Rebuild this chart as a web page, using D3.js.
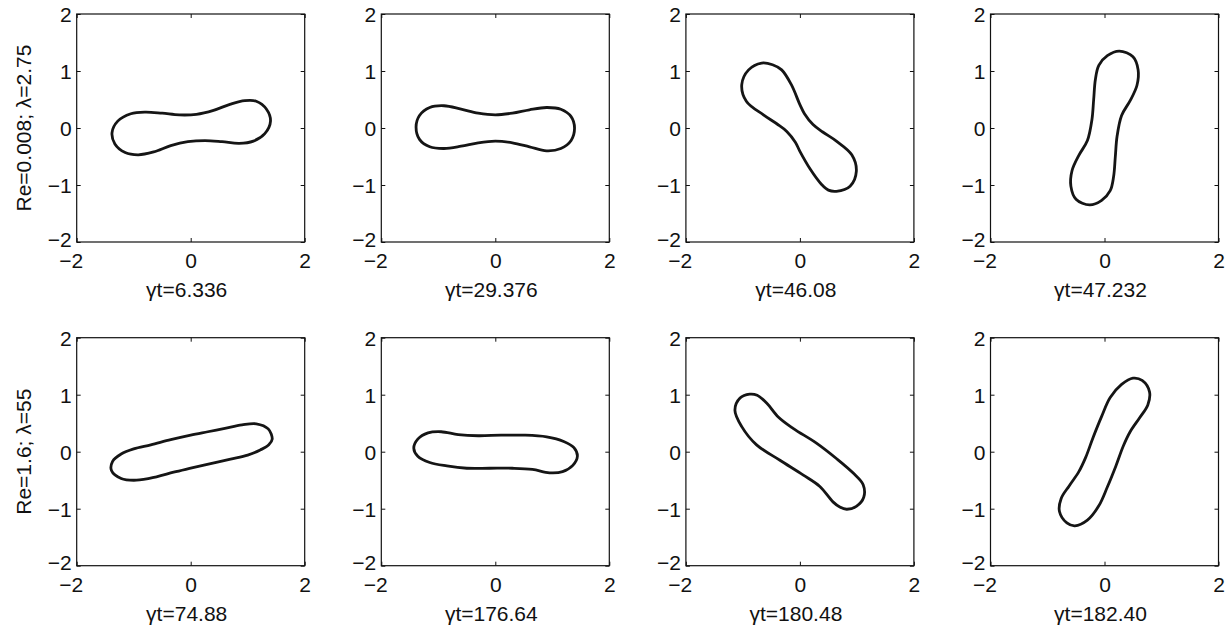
<!DOCTYPE html>
<html>
<head>
<meta charset="utf-8">
<script src="https://cdn.jsdelivr.net/npm/d3@7"></script>
<style>
  body { margin: 0; background: #fff; }
  svg text { font-family: "Liberation Sans", Arial, Helvetica, sans-serif; fill: #111; }
</style>
</head>
<body>
<div id="chart"></div>
<script>
// tick values shared by every panel
var xTicks = [-2, 0, 2];
var yTicks = [-2, -1, 0, 1, 2];

// row labels (left side) and panel labels (below each panel)
var rowLabels = ["Re=0.008; \u03bb=2.75", "Re=1.6; \u03bb=55"];
var panelLabels = [
  ["\u03b3t=6.336", "\u03b3t=29.376", "\u03b3t=46.08", "\u03b3t=47.232"],
  ["\u03b3t=74.88", "\u03b3t=176.64", "\u03b3t=180.48", "\u03b3t=182.40"]
];

// drop outlines as [x, y]
var shape1 = [[1.40,0.12],[1.33,0.33],[1.15,0.47],[0.95,0.48],[0.70,0.42],[0.40,0.31],[0.10,0.24],[-0.20,0.23],
  [-0.50,0.26],[-0.80,0.28],[-1.05,0.25],[-1.28,0.12],[-1.38,-0.08],[-1.33,-0.28],[-1.15,-0.43],[-0.92,-0.47],
  [-0.65,-0.42],[-0.35,-0.31],[-0.05,-0.24],[0.25,-0.22],[0.55,-0.24],[0.85,-0.27],[1.10,-0.23],[1.30,-0.10]];
var shape2 = [[1.39,0.00],[1.33,0.20],[1.15,0.33],[0.90,0.36],[0.60,0.32],[0.30,0.26],[0.00,0.23],[-0.30,0.26],
  [-0.60,0.33],[-0.90,0.39],[-1.15,0.36],[-1.33,0.22],[-1.39,0.02],[-1.33,-0.20],[-1.15,-0.33],[-0.90,-0.36],
  [-0.60,-0.32],[-0.30,-0.26],[0.00,-0.23],[0.30,-0.26],[0.60,-0.33],[0.90,-0.40],[1.15,-0.36],[1.33,-0.22]];
var shape3 = [[0.64,-1.11],[0.88,-1.02],[0.99,-0.76],[0.91,-0.47],[0.64,-0.23],[0.40,-0.07],[0.23,0.06],[0.08,0.25],
  [0.00,0.41],[-0.15,0.76],[-0.32,1.02],[-0.48,1.11],[-0.67,1.14],[-0.90,1.02],[-1.02,0.76],[-0.94,0.47],
  [-0.64,0.23],[-0.40,0.07],[-0.23,-0.06],[-0.08,-0.25],[0.00,-0.41],[0.18,-0.72],[0.38,-0.99],[0.50,-1.09]];
var shape4 = [[-0.26,-1.35],[-0.05,-1.27],[0.10,-1.10],[0.16,-0.85],[0.19,-0.50],[0.22,-0.15],[0.30,0.22],[0.45,0.48],
  [0.57,0.75],[0.59,1.02],[0.50,1.25],[0.26,1.35],[0.05,1.27],[-0.10,1.10],[-0.16,0.85],[-0.19,0.50],
  [-0.22,0.15],[-0.30,-0.22],[-0.45,-0.48],[-0.57,-0.75],[-0.59,-1.02],[-0.50,-1.25]];
var shape5 = [[1.43,0.22],[1.36,0.40],[1.15,0.49],[0.90,0.47],[0.60,0.41],[0.30,0.35],[0.00,0.29],[-0.35,0.21],
  [-0.70,0.12],[-1.00,0.05],[-1.22,-0.04],[-1.37,-0.17],[-1.39,-0.33],[-1.22,-0.47],[-0.95,-0.50],[-0.60,-0.44],
  [-0.30,-0.36],[0.00,-0.29],[0.35,-0.21],[0.70,-0.13],[1.00,-0.06],[1.22,0.03],[1.37,0.12]];
var shape6 = [[1.44,-0.08],[1.38,0.07],[1.20,0.18],[0.90,0.26],[0.50,0.29],[0.10,0.29],[-0.30,0.28],[-0.65,0.30],
  [-0.95,0.35],[-1.18,0.33],[-1.36,0.22],[-1.43,0.06],[-1.36,-0.08],[-1.15,-0.19],[-0.85,-0.25],[-0.50,-0.29],
  [-0.10,-0.29],[0.30,-0.29],[0.65,-0.31],[0.95,-0.37],[1.18,-0.35],[1.36,-0.24]];
var shape7 = [[0.82,-1.01],[0.99,-0.96],[1.12,-0.80],[1.11,-0.58],[0.94,-0.38],[0.64,-0.12],[0.29,0.15],[-0.12,0.41],
  [-0.38,0.61],[-0.58,0.85],[-0.75,0.99],[-0.88,1.01],[-1.05,0.94],[-1.14,0.73],[-1.02,0.44],[-0.76,0.12],
  [-0.35,-0.15],[0.06,-0.41],[0.35,-0.61],[0.58,-0.88],[0.70,-0.97]];
var shape8 = [[-0.52,-1.30],[-0.30,-1.20],[-0.10,-0.95],[0.05,-0.62],[0.20,-0.25],[0.33,0.10],[0.45,0.35],[0.62,0.60],
  [0.76,0.82],[0.79,1.05],[0.66,1.25],[0.50,1.29],[0.30,1.18],[0.10,0.95],[-0.05,0.62],[-0.20,0.25],
  [-0.33,-0.10],[-0.45,-0.35],[-0.62,-0.60],[-0.76,-0.82],[-0.79,-1.05],[-0.66,-1.25]];

var shapes = [[shape1, shape2, shape3, shape4], [shape5, shape6, shape7, shape8]];

const width = 1229, height = 630;
const size = 228;              // square panel side
const left0 = 76.7, stepX = 304.6;
const tops = [14, 337.7];
const fontSize = 21;
const tickLen = 4;
const fmt = d3.format("d");

const svg = d3.select("#chart").append("svg")
  .attr("width", width)
  .attr("height", height);

const x = d3.scaleLinear().domain([-2, 2]).range([0, size]);
const y = d3.scaleLinear().domain([-2, 2]).range([size, 0]);

const line = d3.line()
  .x(function(d) { return x(d[0]); })
  .y(function(d) { return y(d[1]); })
  .curve(d3.curveCatmullRomClosed.alpha(0.5));

shapes.forEach(function(row, r) {
  // row label on the left
  svg.append("text")
    .attr("transform", "translate(31," + (tops[r] + size / 2) + ") rotate(-90)")
    .attr("text-anchor", "middle")
    .style("font-size", fontSize + "px")
    .text(rowLabels[r]);

  row.forEach(function(pts, c) {
    const g = svg.append("g")
      .attr("transform", "translate(" + (left0 + c * stepX) + "," + tops[r] + ")");

    // bottom axis with labels
    const xb = g.append("g")
      .attr("transform", "translate(0," + size + ")")
      .call(d3.axisBottom(x).tickValues(xTicks).tickFormat(fmt).tickSizeInner(-tickLen).tickSizeOuter(0));
    xb.selectAll("text")
      .attr("y", 26).attr("dy", null)
      .attr("dx", function(d) { return d < 0 ? "-0.29em" : null; })
      .style("font-size", fontSize + "px");

    // left axis with labels
    const yl = g.append("g")
      .call(d3.axisLeft(y).tickValues(yTicks).tickFormat(fmt).tickSizeInner(-tickLen).tickSizeOuter(0).tickPadding(5));
    yl.selectAll("text")
      .attr("dy", function(d) { return d === -2 ? "0.2em" : "0.36em"; })
      .style("font-size", fontSize + "px");

    // mirrored ticks on top and right, no labels
    g.append("g")
      .call(d3.axisTop(x).tickValues(xTicks).tickSizeInner(-tickLen).tickSizeOuter(0).tickFormat(""));
    g.append("g")
      .attr("transform", "translate(" + size + ",0)")
      .call(d3.axisRight(y).tickValues(yTicks).tickSizeInner(-tickLen).tickSizeOuter(0).tickFormat(""));

    g.selectAll(".domain").remove();
    g.selectAll(".tick line").attr("stroke", "#111").attr("stroke-width", 1);

    g.append("rect")
      .attr("width", size).attr("height", size)
      .attr("fill", "none")
      .attr("stroke", "#111")
      .attr("stroke-width", 1.2);

    g.append("path")
      .datum(pts)
      .attr("d", line)
      .attr("fill", "none")
      .attr("stroke", "#151515")
      .attr("stroke-width", 2.8);

    g.append("text")
      .attr("x", size / 2 - 4)
      .attr("y", size + 55)
      .attr("text-anchor", "middle")
      .style("font-size", fontSize + "px")
      .text(panelLabels[r][c]);
  });
});
</script>
</body>
</html>
